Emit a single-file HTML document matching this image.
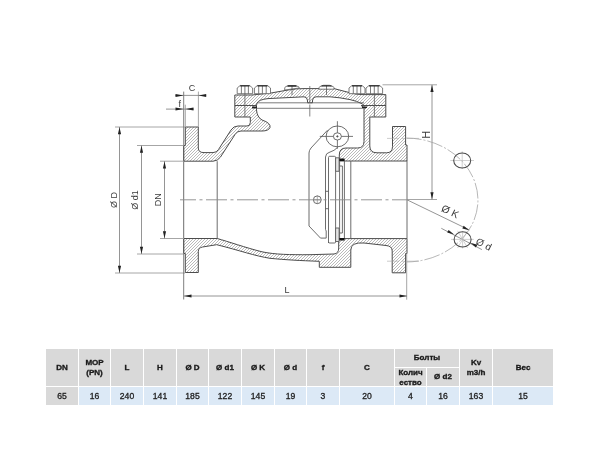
<!DOCTYPE html>
<html><head><meta charset="utf-8">
<style>
html,body{-webkit-font-smoothing:antialiased;margin:0;padding:0;background:#fff;width:600px;height:450px;overflow:hidden;position:relative;font-family:"Liberation Sans",sans-serif;}
svg{position:absolute;left:0;top:0;}
.c{position:absolute;background:#d9d9d9;color:#1a1a1a;-webkit-text-stroke:0.35px #1a1a1a;font-weight:bold;font-size:8px;line-height:9.5px;display:flex;align-items:center;justify-content:center;text-align:center;}
.d{position:absolute;background:#dce9f6;color:#222;-webkit-text-stroke:0.3px #222;font-size:8.6px;line-height:10px;padding-top:0.4px;box-sizing:border-box;display:flex;align-items:center;justify-content:center;text-align:center;top:387px;height:18px;}
.h{top:349px;height:37px;}
</style></head><body>
<svg width="600" height="450" viewBox="0 0 600 450">
<defs>
<pattern id="ht" patternUnits="userSpaceOnUse" width="3" height="3">
<path d="M-1,1 L1,-1 M0,3 L3,0 M2,4 L4,2" stroke="#a8a8a8" stroke-width="0.8"/>
</pattern>
</defs>
<g id="drawing"><g fill="none" stroke-linejoin="round" stroke-linecap="butt">
<!-- hatched body pieces -->
<g fill="url(#ht)" stroke="#4c4c4c" stroke-width="1">
<!-- upper-left body: flange + wall + top flange -->
<path d="M185.3,127 H198.3 V148 Q198.3,152.6 204,152.6 H213 Q216.5,152.6 218.5,149.5 L231,130 Q233.5,126 238,126 H247 Q250.3,126 250.3,122.5 V117 H234.8 V105.5 H256.5 V110 Q257,117 262,120 Q271,123 270,127.5 Q268.5,131 262,131 H241 Q237,131 235,134.5 L220.5,157 Q217.5,161.2 213,161.2 H183.7 V145.5 H185.3 Z"/>
<!-- cover -->
<path d="M234.8,95 H252 Q272,93.5 288,90 Q296,88.5 304,88.6 H334 L351,93 Q355,94.3 362,94.6 H385.8 V105.5 H364 L362.5,104 Q357,101 350,99.6 Q340,97.5 330,96.8 L316,96.8 Q313,97 312.6,100 L312.4,102.8 H307.6 L307.4,100 Q307,97 304,96.8 L268,98.6 Q259,99.5 257,103 L256.5,105.5 H234.8 Z"/>
<!-- upper-right body -->
<path d="M361,105.5 H385.8 V117 H369.8 V146 Q369.8,152.8 377,152.8 H386.5 Q392.5,152.8 392.5,146.5 V126.5 H405.6 V145 H407 V161 H344.6 H339.3 V155 Q339.3,148 346,148 H357.5 Q364,148 364,141.5 V108.5 Q363.5,106 361,105.5 Z"/>
<!-- lower body -->
<path d="M183.7,238.5 H217.2 C228,241.5 246,247.8 262,251.8 C275,254.6 290,254.8 310,254.7 L334,254 Q338.7,253.6 338.7,248 V238.6 H407 V253.5 H405.6 V272.8 H392.2 V251 Q392.2,246 386,245.5 L364,243 Q350.8,242 350.8,250 V267.3 H319.3 V261.3 C300,260.6 285,259.8 270,258.3 C255,256 240,250.5 216.7,244.7 L202.5,247 Q198.3,247.8 198.3,251.5 V272.5 H185.3 V253.5 H183.7 Z"/>
</g>
<!-- inner bore lines -->
<g stroke="#5c5c5c" stroke-width="0.9">
<path d="M217.2,161.2 V238.5"/>
<path d="M350.8,161 V238.6"/>
<path d="M407,161 V238.6"/>
<path d="M183.7,145.5 V254"/>
</g>
<!-- bolts -->
<g stroke="#5c5c5c" stroke-width="0.8" fill="#fff">
<path d="M237.2,93.7 V88 L240.2,85.5 H249.6 L252.6,88 V93.7 Z M241.4,86 V93.7 M244.9,86 V93.7 M248.4,86 V93.7"/>
<path d="M254.4,93.7 V88 L257.4,85.5 H267.5 L270.5,88 V93.7 Z M258.7,86 V93.7 M262.4,86 V93.7 M266.2,86 V93.7"/>
<path d="M284.7,90 V88 Q285,86.3 287.5,86 L289,85.5 H295 L296.5,86 Q299.3,86.3 299.3,88 Z M292,85.5 V95"/>
<path d="M319,89.2 V87.8 Q319.3,86.2 321.8,86 L323.5,85.3 H329.5 L331,86 Q334,86.2 334,87.8 V89.2 Z M326.5,85.3 V95"/>
<path d="M349,93.7 V88 L352.0,85.5 H362.0 L365,88 V93.7 Z M353.3,86 V93.7 M357.0,86 V93.7 M360.7,86 V93.7"/>
<path d="M366,93.7 V88 L369.0,85.5 H379.6 L382.6,88 V93.7 Z M370.5,86 V93.7 M374.3,86 V93.7 M378.1,86 V93.7"/>
</g>
<g stroke="#2a2a2a" stroke-width="1.3">
<path d="M240.2,85.9 H249.6 M257.4,85.9 H267.5 M352.0,85.9 H362.0 M369.0,85.9 H379.6 M287.5,86 H296.5 M321.5,85.9 H331.5"/>
</g>
<!-- cover/body split and plate lines -->
<g stroke="#5c5c5c" stroke-width="0.8">
<path d="M244.9,93.5 V117 M374.4,93.5 V117"/>
<path d="M257,102.8 H364 M252,108.3 H366"/>
</g>
<path d="M252,107.2 H257 M362,107.2 H367" stroke="#222" stroke-width="1.6"/>
<!-- hinge -->
<g stroke="#5c5c5c" stroke-width="0.9">
<ellipse cx="337.4" cy="136.4" rx="11.3" ry="10.4" fill="#fff"/>
<ellipse cx="337.4" cy="136.4" rx="4" ry="3.6"/>
<circle cx="337.4" cy="136.4" r="0.7" fill="#444"/>
<path d="M327.5,130.2 L311,148 Q309,150.5 309,153 V226 L320.5,238.1 H326.2 V231 L325.5,229.5 V157 Q326,153 329,152.5 Q335,150.5 337.3,147.6"/>
<path d="M328.5,243 V157.5 Q328.5,156.3 329.7,156.3 H334.4 Q335.6,156.3 335.6,157.5 V242 Q335.6,243 334.4,243 H329.7 Q328.5,243 328.5,242 Z" fill="#fff"/>
<rect x="335.6" y="157.8" width="3.5" height="13.5" fill="#e4e4e4"/>
<rect x="335.6" y="228" width="3.5" height="13.5" fill="#e4e4e4"/>
<path d="M339.6,161 V238.6 M344.4,161 V238.6 M339.6,166 H342.4 V233 H339.6 M325.5,191.3 H328.5 M325.5,208.7 H328.5"/>
<circle cx="317.3" cy="199.8" r="3.9"/>
</g>
<path d="M339.4,159.8 H344.6 M339.4,239.3 H344.6" stroke="#111" stroke-width="2.4"/>
<g stroke="#777" stroke-width="0.6">
<path d="M319.8,136.4 H333.4 M341.4,136.4 H353 M337.4,121.2 V132.8 M337.4,140 V148.8" stroke="#555" stroke-width="0.8"/>
<path d="M313,199.8 H321.6 M317.3,195.5 V204"/>
</g>
<!-- centerlines -->
<g stroke="#8a8a8a" stroke-width="0.9">
<path d="M180,199.8 H407" stroke-dasharray="21,3.5,3,3.5" stroke-dashoffset="5"/>
<path d="M309.8,86 V102.5 M309.8,104.5 V116.5" stroke="#666" stroke-width="0.8"/>
<path d="M387,138.4 H422 M387,261.2 H422" stroke-dasharray="12,3,2,3" stroke="#aaa" stroke-width="0.6"/>
</g>
<!-- dimension & extension lines -->
<g stroke="#9c9c9c" stroke-width="0.9">
<path d="M115,127 H185 M115,273 H185 M137,145.5 H184 M137,254 H184 M160,161.2 H184 M160,238.5 H184"/>
<path d="M185.3,104.7 V127 M198.4,91.6 V127"/>
<path d="M183.7,91.6 V145.5 M183.7,254 V299.5" stroke="#707070"/>
<path d="M406.7,253.5 V299.7"/>
<path d="M382.5,84.8 H437 M407,199.5 H437"/>
</g>
<g stroke="#7a7a7a" stroke-width="0.8">
<path d="M119.5,127 V273 M141.5,145.5 V254 M164.5,161.2 V238.5"/>
<path d="M175.3,95.4 H206.2 M166,109.1 H193.9"/>
<path d="M184,296 H407"/>
<path d="M432,84.8 V199.5"/>
<path d="M407,199.8 L469.4,230"/>
<path d="M441.3,228.3 L481.9,249.6"/>
</g>
<!-- arrows -->
<g fill="#222" stroke="none">
<path d="M119.5,127.2 L117.9,134.2 H121.1 Z M119.5,272.8 L117.9,265.8 H121.1 Z"/>
<path d="M141.5,145.7 L139.9,152.7 H143.1 Z M141.5,253.8 L139.9,246.8 H143.1 Z"/>
<path d="M164.5,161.4 L162.9,168.4 H166.1 Z M164.5,238.3 L162.9,231.3 H166.1 Z"/>
<path d="M183.5,95.4 L175.5,93.9 V96.9 Z M198.6,95.4 L206.2,93.9 V96.9 Z"/>
<path d="M183.5,109.1 L175.5,107.6 V110.6 Z M185.5,109.1 L193.5,107.6 V110.6 Z"/>
<path d="M184,296 L191.5,294.4 V297.6 Z M407,296 L399.5,294.4 V297.6 Z"/>
<path d="M432,85 L430.4,92 H433.6 Z M432,199.3 L430.4,192.3 H433.6 Z"/>
<path d="M469.3,230.2 L462.35,228.5 L463.65,225.8 Z"/>
<path d="M454.1,234.5 L447.2,232.6 L448.6,229.9 Z M470.4,242.8 L475.9,247.4 L477.3,244.7 Z"/>
</g>
<!-- bolt circle arc and holes -->
<path d="M405.6,138 A72.3,62 0 1 1 405.6,262" stroke="#a4a4a4" stroke-width="0.8" stroke-dasharray="16,2,2,2"/>
<g stroke="#b4b4b4" stroke-width="0.6">
<path d="M450.3,160.5 H474 M462.2,151.3 V169"/>
<path d="M451,239.4 H473.8 M462.6,231 V248.5 M457.6,230.8 L467.6,248 M467.6,230.8 L457.6,248"/>
</g>
<g stroke="#4a4a4a" stroke-width="1.05" fill="none">
<ellipse cx="462.2" cy="160.5" rx="8.5" ry="7.6"/>
<ellipse cx="462.6" cy="239.4" rx="8.5" ry="7.6"/>
</g>
</g>
<!-- text -->
<g fill="#3a3a3a" font-family="Liberation Sans, sans-serif" font-size="9" opacity="0.999">
<text x="192" y="90.9" text-anchor="middle">C</text>
<text x="179.7" y="107.2" text-anchor="middle">f</text>
<text x="287" y="293" text-anchor="middle">L</text>
<text transform="translate(117.1,199.9) rotate(-90)" text-anchor="middle">Ø D</text>
<text transform="translate(138.2,199.9) rotate(-90)" text-anchor="middle">Ø d1</text>
<text transform="translate(161.3,199.7) rotate(-90)" text-anchor="middle">DN</text>
<text transform="translate(421.6,134.7) rotate(90)" text-anchor="middle" font-size="10.5">H</text>
<text transform="translate(448.6,214.6) rotate(26)" text-anchor="middle" font-size="10.3">Ø K</text>
<text transform="translate(482.2,247.4) rotate(26)" text-anchor="middle" font-size="10">Ø d</text>
</g>
</g>
</svg>

<div style="position:absolute;left:0;top:0;width:600px;height:450px;filter:contrast(1);">
<div class="c h" style="left:46px;width:32px;">DN</div>
<div class="c h" style="left:79px;width:31px;">MOP<br>(PN)</div>
<div class="c h" style="left:111px;width:32px;">L</div>
<div class="c h" style="left:144px;width:32px;">H</div>
<div class="c h" style="left:177px;width:31px;">Ø D</div>
<div class="c h" style="left:209px;width:32px;">Ø d1</div>
<div class="c h" style="left:242px;width:32px;">Ø K</div>
<div class="c h" style="left:275px;width:31px;">Ø d</div>
<div class="c h" style="left:307px;width:32px;">f</div>
<div class="c h" style="left:340px;width:54px;">C</div>
<div class="c" style="left:395px;width:64px;top:349px;height:18px;">Болты</div>
<div class="c" style="left:395px;width:31px;top:368px;height:18px;line-height:10px;padding-top:2.5px;box-sizing:border-box;">Колич<br>ество</div>
<div class="c" style="left:427px;width:32px;top:368px;height:18px;">Ø d2</div>
<div class="c h" style="left:460px;width:32px;">Kv<br>m3/h</div>
<div class="c h" style="left:493px;width:60px;">Bec</div>

<div class="d" style="left:46px;width:32px;background:#d9d9d9;">65</div>
<div class="d" style="left:79px;width:31px;">16</div>
<div class="d" style="left:111px;width:32px;">240</div>
<div class="d" style="left:144px;width:32px;">141</div>
<div class="d" style="left:177px;width:31px;">185</div>
<div class="d" style="left:209px;width:32px;">122</div>
<div class="d" style="left:242px;width:32px;">145</div>
<div class="d" style="left:275px;width:31px;">19</div>
<div class="d" style="left:307px;width:32px;">3</div>
<div class="d" style="left:340px;width:54px;">20</div>
<div class="d" style="left:395px;width:31px;">4</div>
<div class="d" style="left:427px;width:32px;">16</div>
<div class="d" style="left:460px;width:32px;">163</div>
<div class="d" style="left:493px;width:60px;">15</div>
</div></body></html>
